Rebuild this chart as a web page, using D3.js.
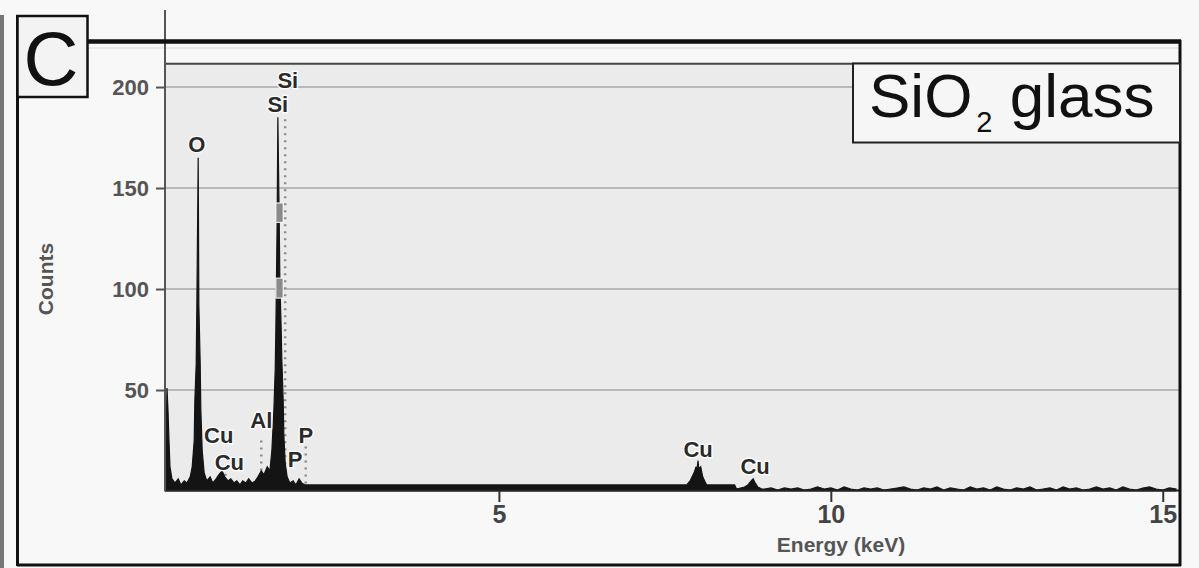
<!DOCTYPE html>
<html>
<head>
<meta charset="utf-8">
<script src="https://cdn.jsdelivr.net/npm/d3@7"></script>
<style>
body { margin: 0; background: #f8f8f8; }
svg { display: block; }
</style>
</head>
<body>
<svg width="1199" height="568"></svg>
<script>
// spectrum: energy (keV) and counts
var energia = [-0.03, -0.015, 0.0, 0.015, 0.03, 0.045, 0.075, 0.12, 0.17, 0.21, 0.26, 0.30, 0.35, 0.38, 0.41, 0.42, 0.44, 0.45, 0.47, 0.48, 0.50, 0.51, 0.53, 0.56, 0.60, 0.65, 0.69, 0.74, 0.78, 0.83, 0.87, 0.92, 0.96, 1.01, 1.05, 1.10, 1.14, 1.19, 1.23, 1.28, 1.33, 1.37, 1.42, 1.46, 1.51, 1.55, 1.58, 1.61, 1.63, 1.64, 1.66, 1.67, 1.69, 1.70, 1.72, 1.73, 1.75, 1.76, 1.78, 1.81, 1.85, 1.90, 1.94, 1.99, 2.03, 2.08, 2.15,
	7.83, 7.88, 7.91, 7.94, 7.97, 7.98, 8.00, 8.01, 8.04, 8.07, 8.10, 8.13, 8.55, 8.58, 8.70, 8.75, 8.80, 8.83, 8.86, 8.90, 8.96];
var conteggi = [2, 25, 51, 40, 25, 12, 6, 4, 6, 3, 5, 4, 7, 12, 25, 45, 63, 92, 165, 92, 63, 40, 20, 9, 5, 7, 4, 6, 8, 10, 7, 5, 6, 4, 5, 3, 5, 4, 6, 4, 5, 7, 10, 8, 12, 10, 20, 40, 60, 80, 135, 185, 135, 105, 80, 65, 45, 28, 14, 7, 4, 5, 3, 6, 4, 3, 3,
	3, 5, 7, 9, 12, 10, 15, 11, 12, 7, 5, 3, 3, 1, 2, 3, 5, 6, 4, 2, 1];
// background noise from 9.0 keV, one value every 0.1 keV
var rumoreInizio = 9.0;
var rumore = [1, 1.5, 0.5, 1.5, 1, 1.5, 0.5, 1, 2, 1, 1.5, 0.5, 2, 1, 0.5, 1.5, 1, 1.5, 0.5, 1, 1.5, 2, 1, 0.5, 1.5, 1, 2, 0.5, 1.5, 1, 0.5, 2, 1, 1.5, 0.5, 2, 1, 0.5, 1.5, 1, 2, 0.5, 1, 1.5, 0.5, 2, 1, 1.5, 0.5, 1, 2, 1, 1.5, 0.5, 2, 1, 0.5, 1.5, 2, 1, 0.5, 1.5, 1];

var tickY = [50, 100, 150, 200];
var tickX = [5, 10, 15];

// peak labels: element, keV, counts (label baseline)
var etichette = ["O", "Si", "Si", "Cu", "Cu", "Al", "P", "P", "Cu", "Cu"];
var etichetteKeV = [0.45, 1.82, 1.67, 0.78, 0.94, 1.42, 2.09, 1.93, 8.00, 8.86];
var etichetteCounts = [168, 199.5, 187.6, 23.8, 10.4, 31, 24, 12, 16.8, 8.4];

// dotted marker lines: keV, top counts, bottom counts
var marcatoriKeV = [1.78, 1.42, 0.88, 2.09];
var marcatoriTop = [184, 25, 12, 22];
var marcatoriBot = [1, 10, 5, 2];

// grey highlight boxes on the Si peak (counts from - to)
var siBoxDa = [133, 95.5];
var siBoxA = [142.6, 105.4];

var svg = d3.select("svg");

var punti = energia.map(function(e, i) { return [e, conteggi[i]]; });
rumore.forEach(function(v, i) { punti.push([rumoreInizio + i * 0.1, v]); });

var x = d3.scaleLinear().domain([-0.03, 15.26]).range([165, 1180]);
var y = d3.scaleLinear().domain([0, 211.5]).range([491, 63.8]);

// frame
svg.append("rect").attr("x", 0).attr("y", 15).attr("width", 4).attr("height", 553).attr("fill", "#777");
svg.append("line").attr("x1", 88).attr("x2", 1181).attr("y1", 48).attr("y2", 48)
	.attr("stroke", "#e4e4e4").attr("stroke-width", 1.5);

// plot background
svg.append("rect")
	.attr("x", x.range()[0]).attr("y", y(211.5))
	.attr("width", x.range()[1] - x.range()[0]).attr("height", y(0) - y(211.5))
	.attr("fill", "#ebebeb");

// grid
svg.append("g").selectAll("line").data(tickY).enter().append("line")
	.attr("x1", 166).attr("x2", 1180)
	.attr("y1", function(d) { return y(d); }).attr("y2", function(d) { return y(d); })
	.attr("stroke", "#b9b9b9").attr("stroke-width", 2);

// dotted markers
svg.append("g").selectAll("line").data(marcatoriKeV).enter().append("line")
	.attr("x1", function(d) { return x(d); }).attr("x2", function(d) { return x(d); })
	.attr("y1", function(d, i) { return y(marcatoriTop[i]); })
	.attr("y2", function(d, i) { return y(marcatoriBot[i]); })
	.attr("stroke", "#8c8c8c").attr("stroke-width", 2.5)
	.style("stroke-dasharray", "2,5");

// spectrum
var area = d3.area()
	.x(function(d) { return x(d[0]); })
	.y0(y(0))
	.y1(function(d) { return y(d[1]); });
svg.append("path").datum(punti)
	.attr("d", area)
	.attr("fill", "#141414")
	.attr("stroke", "#141414").attr("stroke-width", 1.2);

// Si highlight boxes
svg.append("g").selectAll("rect").data(siBoxDa).enter().append("rect")
	.attr("x", x(1.64)).attr("width", x(1.75) - x(1.64))
	.attr("y", function(d, i) { return y(siBoxA[i]); })
	.attr("height", function(d, i) { return y(d) - y(siBoxA[i]); })
	.attr("fill", "#8a8a8a").attr("stroke", "#fff").attr("stroke-width", 1);

// baseline
svg.append("line").attr("x1", 165).attr("x2", 1180).attr("y1", y(0) - 0.5).attr("y2", y(0) - 0.5)
	.attr("stroke", "#222").attr("stroke-width", 2);

// plot top border
svg.append("line").attr("x1", 165).attr("x2", 1180).attr("y1", y(211.5)).attr("y2", y(211.5))
	.attr("stroke", "#444").attr("stroke-width", 2);

// y axis
var assey = svg.append("g").attr("transform", "translate(165,0)")
	.call(d3.axisLeft(y).tickValues(tickY).tickSize(9).tickPadding(7));
assey.select(".domain").remove();
assey.selectAll(".tick line").attr("stroke", "#555").attr("stroke-width", 2);
assey.selectAll(".tick text")
	.attr("fill", "#555").attr("font-family", "'Liberation Sans', Arial, sans-serif")
	.attr("font-weight", "bold").attr("font-size", 22).attr("dy", "0.36em");
svg.append("line").attr("x1", 165).attr("x2", 165).attr("y1", 10).attr("y2", 491)
	.attr("stroke", "#555").attr("stroke-width", 2);

// x axis
var assex = svg.append("g").attr("transform", "translate(0," + y(0) + ")")
	.call(d3.axisBottom(x).tickValues(tickX).tickSize(11).tickPadding(3));
assex.select(".domain").remove();
assex.selectAll(".tick line").attr("stroke", "#333").attr("stroke-width", 2);
assex.selectAll(".tick text")
	.attr("fill", "#444").attr("font-family", "'Liberation Sans Narrow', 'Liberation Sans', sans-serif")
	.attr("font-weight", "bold").attr("font-size", 25);

// axis titles
svg.append("text").text("Energy (keV)")
	.attr("x", 841).attr("y", 552).attr("text-anchor", "middle")
	.attr("fill", "#555").attr("font-family", "'Liberation Sans Narrow', 'Liberation Sans', sans-serif")
	.attr("font-weight", "bold").attr("font-size", 21);
svg.append("text").text("Counts")
	.attr("transform", "translate(53,279) rotate(-90)").attr("text-anchor", "middle")
	.attr("fill", "#555").attr("font-family", "'Liberation Sans', Arial, sans-serif")
	.attr("font-weight", "bold").attr("font-size", 21);

// peak labels
svg.append("g").selectAll("text").data(etichette).enter().append("text")
	.text(function(d) { return d; })
	.attr("x", function(d, i) { return x(etichetteKeV[i]); })
	.attr("y", function(d, i) { return y(etichetteCounts[i]); })
	.attr("text-anchor", "middle")
	.attr("fill", "#2a2a2a").attr("font-family", "'Liberation Sans', Arial, sans-serif")
	.attr("font-weight", "bold").attr("font-size", 22)
	.attr("stroke", "#fff").attr("stroke-width", 2.5).style("paint-order", "stroke");

// outer frame lines
svg.append("line").attr("x1", 88).attr("x2", 1181).attr("y1", 41.5).attr("y2", 41.5)
	.attr("stroke", "#111").attr("stroke-width", 4.5);
svg.append("line").attr("x1", 1180).attr("x2", 1180).attr("y1", 40).attr("y2", 566)
	.attr("stroke", "#111").attr("stroke-width", 3);
svg.append("line").attr("x1", 17).attr("x2", 1181).attr("y1", 565).attr("y2", 565)
	.attr("stroke", "#111").attr("stroke-width", 3);
svg.append("line").attr("x1", 17.5).attr("x2", 17.5).attr("y1", 15).attr("y2", 566)
	.attr("stroke", "#111").attr("stroke-width", 3);

// panel letter box
svg.append("rect").attr("x", 17.5).attr("y", 16).attr("width", 70).attr("height", 81)
	.attr("fill", "#f3f3f3").attr("stroke", "#111").attr("stroke-width", 2.5);
svg.append("text").text("C")
	.attr("x", 51).attr("y", 85).attr("text-anchor", "middle")
	.attr("fill", "#111").attr("font-family", "'Liberation Sans', Arial, sans-serif")
	.attr("font-size", 76);

// sample box
svg.append("rect").attr("x", 853).attr("y", 63.5).attr("width", 327).attr("height", 79)
	.attr("fill", "#f6f6f6").attr("stroke", "#222").attr("stroke-width", 2);
var titolo = svg.append("text")
	.attr("x", 869).attr("y", 117)
	.attr("fill", "#111").attr("font-family", "'Liberation Sans', Arial, sans-serif")
	.attr("font-size", 62);
titolo.append("tspan").text("SiO");
titolo.append("tspan").text("2").attr("font-size", 29).attr("dx", 4).attr("dy", 15);
titolo.append("tspan").text(" glass").attr("dy", -15);
</script>
</body>
</html>
